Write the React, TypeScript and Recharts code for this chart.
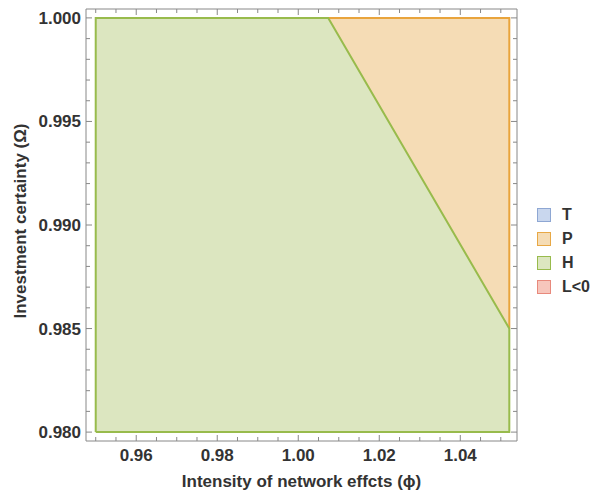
import React from "react";
import { ComposedChart, Area, Line, XAxis, YAxis } from "recharts";

// Region H (green): lower bound 0.98, upper boundary
const hRegion = [
  { x: 0.95, range: [0.98, 1.0] },
  { x: 1.0074, range: [0.98, 1.0] },
  { x: 1.0521, range: [0.98, 0.985] },
];
// Region P (orange): triangle above the diagonal
const pRegion = [
  { x: 1.0074, range: [1.0, 1.0] },
  { x: 1.0521, range: [0.985, 1.0] },
];
// Outlines
const hOutline = [
  { x: 0.95, y: 0.98 },
  { x: 0.95, y: 1.0 },
  { x: 1.0074, y: 1.0 },
  { x: 1.0521, y: 0.985 },
  { x: 1.0521, y: 0.98 },
  { x: 0.95, y: 0.98 },
];
const pOutline = [
  { x: 1.0074, y: 1.0 },
  { x: 1.0521, y: 1.0 },
  { x: 1.0521, y: 0.985 },
];

const xTicks = [
  0.95, 0.955, 0.96, 0.965, 0.97, 0.975, 0.98, 0.985, 0.99, 0.995, 1.0, 1.005,
  1.01, 1.015, 1.02, 1.025, 1.03, 1.035, 1.04, 1.045, 1.05,
];
const xMajor = [0.96, 0.98, 1.0, 1.02, 1.04];
const xLabels = ["0.96", "0.98", "1.00", "1.02", "1.04"];
const yTicks = [
  0.98, 0.981, 0.982, 0.983, 0.984, 0.985, 0.986, 0.987, 0.988, 0.989, 0.99,
  0.991, 0.992, 0.993, 0.994, 0.995, 0.996, 0.997, 0.998, 0.999, 1.0,
];
const yMajor = [0.98, 0.985, 0.99, 0.995, 1.0];
const yLabels = ["0.980", "0.985", "0.990", "0.995", "1.000"];

const legendItems = [
  { name: "T", fill: "#c9d7ee", stroke: "#8ea7d3" },
  { name: "P", fill: "#f5dcb5", stroke: "#e8a845" },
  { name: "H", fill: "#dce6c0", stroke: "#98bb4c" },
  { name: "L<0", fill: "#f7c6bc", stroke: "#e8897c" },
];

const FONT = "'Liberation Sans', Arial, sans-serif";
const TXT = "#333";
const AXIS = "#888";

const majorIdx = (v: number, arr: number[]) =>
  arr.findIndex((m) => Math.abs(m - v) < 1e-6);

const makeTick = (side: "bottom" | "top" | "left" | "right") => (props: any) => {
  const { x, y, payload } = props;
  const v = payload.value;
  const isX = side === "bottom" || side === "top";
  const idx = majorIdx(v, isX ? xMajor : yMajor);
  const len = idx >= 0 ? 6 : 4;
  let line;
  if (side === "bottom") line = <line x1={x} y1={y} x2={x} y2={y - len} stroke={AXIS} />;
  else if (side === "top") line = <line x1={x} y1={y} x2={x} y2={y + len} stroke={AXIS} />;
  else if (side === "left") line = <line x1={x} y1={y} x2={x + len} y2={y} stroke={AXIS} />;
  else line = <line x1={x} y1={y} x2={x - len} y2={y} stroke={AXIS} />;
  let label = null;
  if (idx >= 0 && side === "bottom") {
    label = (
      <text x={x} y={y + 20} textAnchor="middle" fontSize={17} fontWeight="bold" fill={TXT} fontFamily={FONT}>
        {xLabels[idx]}
      </text>
    );
  } else if (idx >= 0 && side === "left") {
    label = (
      <text x={x - 5} y={y + 6} textAnchor="end" fontSize={17} fontWeight="bold" fill={TXT} fontFamily={FONT}>
        {yLabels[idx]}
      </text>
    );
  }
  return (
    <g>
      {line}
      {label}
    </g>
  );
};

const LegendBox = () => (
  <div style={{ position: "absolute", left: 537, top: 203, fontFamily: FONT }}>
    {legendItems.map((it) => (
      <div key={it.name} style={{ display: "flex", alignItems: "center", height: 24 }}>
        <div
          style={{
            width: 12,
            height: 12,
            background: it.fill,
            border: `1px solid ${it.stroke}`,
            marginRight: 11,
          }}
        />
        <span style={{ fontSize: 16, fontWeight: "bold", color: TXT }}>{it.name}</span>
      </div>
    ))}
  </div>
);

export default function App() {
  return (
    <div style={{ position: "absolute", left: 0, top: 0, width: 597, height: 497, background: "#fff" }}>
      <ComposedChart
        width={597}
        height={497}
        margin={{ top: 8, right: 79, bottom: 26, left: 0 }}
      >
        <XAxis
          xAxisId="b"
          dataKey="x"
          type="number"
          domain={[0.9476, 1.054]}
          allowDataOverflow
          ticks={xTicks}
          interval={0}
          height={30}
          tickSize={0}
          tickMargin={0}
          tickLine={false}
          stroke={AXIS}
          tick={makeTick("bottom")}
          label={{
            value: "Intensity of network effcts (\u03D5)",
            position: "bottom",
            offset: 4,
            style: { fontSize: 17, fontWeight: "bold", fill: TXT, fontFamily: FONT },
          }}
        />
        <XAxis
          xAxisId="t"
          dataKey="x"
          type="number"
          orientation="top"
          domain={[0.9476, 1.054]}
          allowDataOverflow
          ticks={xTicks}
          interval={0}
          height={1}
          tickSize={0}
          tickMargin={0}
          tickLine={false}
          stroke={AXIS}
          tick={makeTick("top")}
        />
        <YAxis
          yAxisId="l"
          type="number"
          domain={[0.97957, 1.00043]}
          allowDataOverflow
          ticks={yTicks}
          interval={0}
          width={86}
          tickSize={0}
          tickMargin={0}
          tickLine={false}
          stroke={AXIS}
          tick={makeTick("left")}
          label={{
            value: "Investment certainty (\u03A9)",
            angle: -90,
            position: "center",
            dx: -23,
            dy: -4,
            style: { fontSize: 17, fontWeight: "bold", fill: TXT, fontFamily: FONT, textAnchor: "middle" },
          }}
        />
        <YAxis
          yAxisId="r"
          type="number"
          orientation="right"
          domain={[0.97957, 1.00043]}
          allowDataOverflow
          ticks={yTicks}
          interval={0}
          width={1}
          tickSize={0}
          tickMargin={0}
          tickLine={false}
          stroke={AXIS}
          tick={makeTick("right")}
        />
        <Area
          xAxisId="b"
          yAxisId="l"
          data={hRegion}
          dataKey="range"
          type="linear"
          fill="#dce6c0"
          fillOpacity={1}
          stroke="none"
          isAnimationActive={false}
          activeDot={false}
        />
        <Area
          xAxisId="b"
          yAxisId="l"
          data={pRegion}
          dataKey="range"
          type="linear"
          fill="#f5dcb5"
          fillOpacity={1}
          stroke="none"
          isAnimationActive={false}
          activeDot={false}
        />
        <Line
          xAxisId="b"
          yAxisId="l"
          data={pOutline}
          dataKey="y"
          type="linear"
          stroke="#e9a43c"
          strokeWidth={2}
          dot={false}
          activeDot={false}
          isAnimationActive={false}
        />
        <Line
          xAxisId="b"
          yAxisId="l"
          data={hOutline}
          dataKey="y"
          type="linear"
          stroke="#98bb4c"
          strokeWidth={2}
          dot={false}
          activeDot={false}
          isAnimationActive={false}
        />
      </ComposedChart>
      <LegendBox />
    </div>
  );
}
